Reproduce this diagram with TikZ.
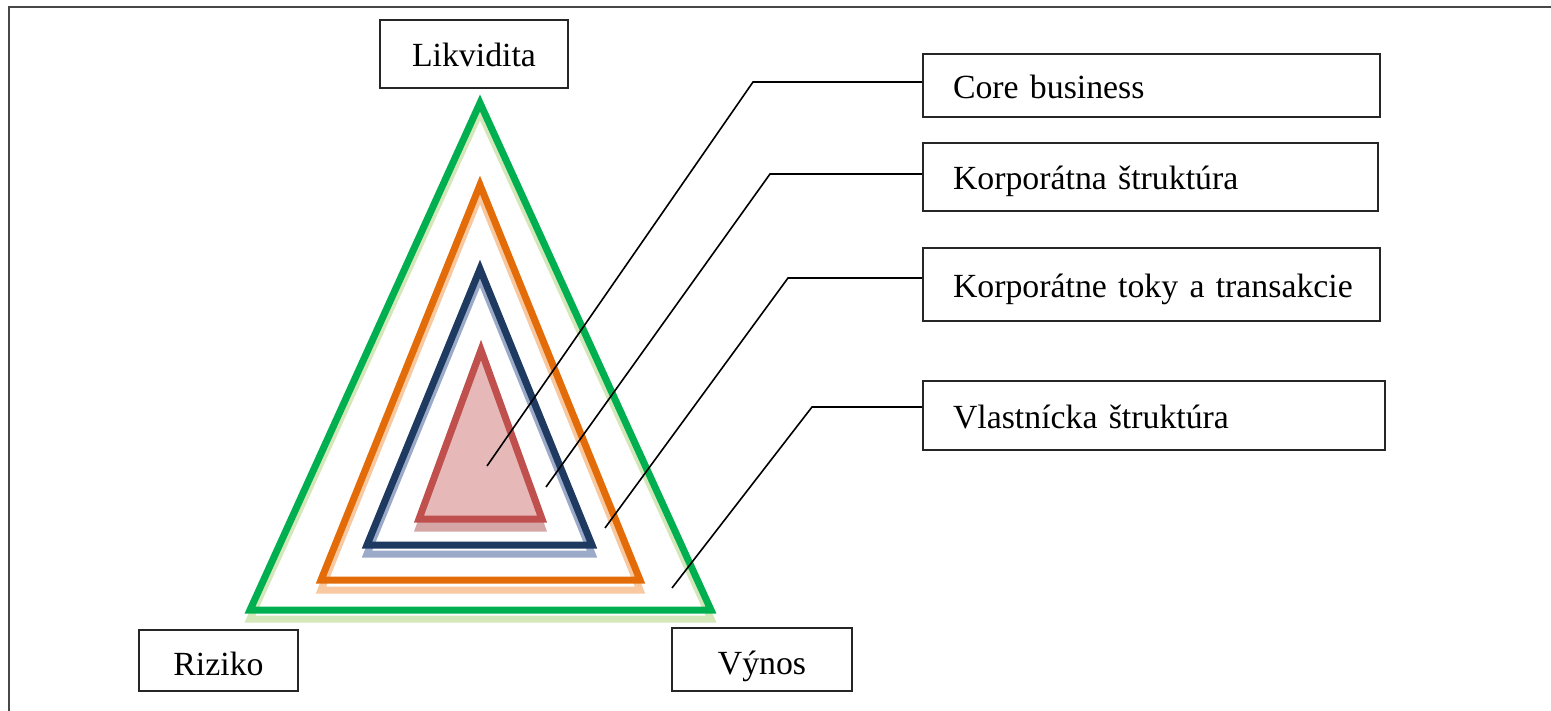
\documentclass[tikz,border=0pt]{standalone}
\usepackage{fontspec}
\setmainfont{Liberation Serif}
\definecolor{grn}{HTML}{00B050}
\definecolor{grnsh}{HTML}{D3E7B8}
\definecolor{org}{HTML}{E36C09}
\definecolor{orgsh}{HTML}{F8C9A0}
\definecolor{nav}{HTML}{1F3A60}
\definecolor{navsh}{HTML}{9AAAC8}
\definecolor{rd}{HTML}{C0504D}
\definecolor{rdfill}{HTML}{E6B9B8}
\definecolor{rdsh}{HTML}{D6A6A6}
\begin{document}
\begin{tikzpicture}[x=1pt,y=-1pt,
  lbl/.style={draw=black!85, line width=2pt, fill=white, inner sep=0pt,
    text height=26pt, text depth=0pt,
    font=\fontsize{33.8pt}{40pt}\selectfont},
  lowlbl/.style={lbl, text height=30pt},
  rbox/.style={lbl, anchor=north west, align=left, inner xsep=30pt, inner ysep=0pt},
  tri/.style={line width=7pt, miter limit=10},
  conn/.style={draw=black, line width=1.6pt},
  frame/.style={draw=black!72, line width=2.8pt}
]
\useasboundingbox (0,0) rectangle (1551,711);
\fill[white] (0,0) rectangle (1551,711);
\draw[frame] (9,720) -- (9,7) -- (1560,7);

% shadows
\draw[tri, grnsh] (480,112) -- (250,619) -- (711,619) -- cycle;
\draw[tri, orgsh] (480,195) -- (321,590) -- (640,590) -- cycle;
\draw[tri, navsh] (480,278) -- (367,554) -- (592,554) -- cycle;
\draw[tri, rdsh, fill=rdsh] (481,360) -- (419,528) -- (542,528) -- cycle;

% triangles
\draw[tri, grn] (480,103) -- (250,610) -- (711,610) -- cycle;
\draw[tri, org] (480,185) -- (321,580) -- (640,580) -- cycle;
\draw[tri, nav] (480,269) -- (367,545) -- (592,545) -- cycle;
\draw[tri, rd, fill=rdfill] (481,350) -- (419,519) -- (542,519) -- cycle;

% corner labels
\node[lbl, minimum width=188pt, minimum height=68pt] (liq) at (474,54) {Likvidita};
\node[lowlbl, minimum width=159pt, minimum height=61pt] (risk) at (218.5,660.5) {Riziko};
\node[lowlbl, minimum width=180pt, minimum height=63pt] (ret) at (762,659.5) {Výnos};

% right labels
\node[rbox, text width=397pt, minimum height=63pt] (core) at (922,53) {Core business};
\node[rbox, text width=395pt, minimum height=68pt] (korp) at (922,142) {Korporátna štruktúra};
\node[rbox, text width=397pt, minimum height=73pt] (toky) at (922,247) {\mbox{Korporátne toky a transakcie}};
\node[rbox, text width=402pt, minimum height=69pt] (vlast) at (922,380) {Vlastnícka štruktúra};

% connectors
\coordinate (e1) at (487,466); \coordinate (k1) at (753,82);
\coordinate (e2) at (546,487); \coordinate (k2) at (770,174);
\coordinate (e3) at (605,528); \coordinate (k3) at (788,278);
\coordinate (e4) at (672,588); \coordinate (k4) at (812,407);
\draw[conn] (e1) -- (k1) -- (k1 -| core.west);
\draw[conn] (e2) -- (k2) -- (k2 -| korp.west);
\draw[conn] (e3) -- (k3) -- (k3 -| toky.west);
\draw[conn] (e4) -- (k4) -- (k4 -| vlast.west);
\end{tikzpicture}
\end{document}
